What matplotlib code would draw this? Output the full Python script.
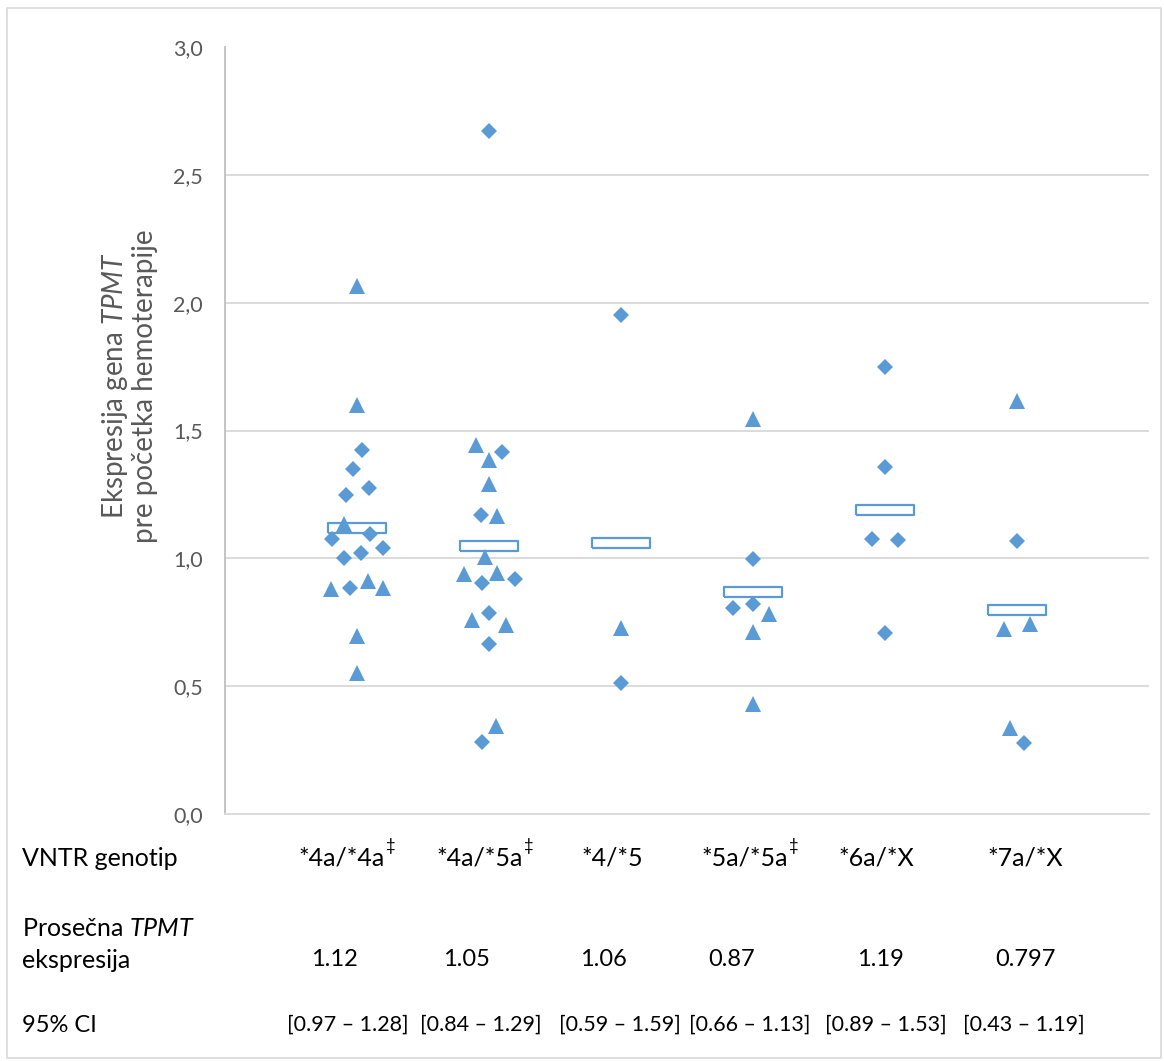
import numpy as np
import matplotlib.pyplot as plt
from matplotlib.patches import Rectangle
from matplotlib.ticker import FuncFormatter

plt.rcParams['font.family'] = ['Lato', 'DejaVu Sans']
plt.rcParams['mathtext.fontset'] = 'custom'
plt.rcParams['mathtext.rm'] = 'Lato'
plt.rcParams['mathtext.it'] = 'Lato:italic'

# genotipovi i sumarni podaci
genotypes = ["*4a/*4a", "*4a/*5a", "*4/*5", "*5a/*5a", "*6a/*X", "*7a/*X"]
has_dagger = [True, True, False, True, False, False]
mean_expr = ["1.12", "1.05", "1.06", "0.87", "1.19", "0.797"]
ci_low = ["0.97", "0.84", "0.59", "0.66", "0.89", "0.43"]
ci_high = ["1.28", "1.29", "1.59", "1.13", "1.53", "1.19"]

# pojedinacne vrednosti (trouglovi)
tri_vals = [
    [2.065, 1.600, 1.135, 0.879, 0.912, 0.885, 0.696, 0.553],
    [1.443, 1.384, 1.291, 1.165, 1.006, 0.937, 0.941, 0.759, 0.738, 0.344],
    [0.729],
    [1.545, 0.784, 0.710, 0.430],
    [],
    [1.616, 0.725, 0.743, 0.335],
]
tri_jit = [
    [0, 0, -0.10, -0.20, 0.08, 0.20, 0, 0],
    [-0.10, 0, 0, 0.06, -0.03, -0.19, 0.06, -0.13, 0.13, 0.05],
    [0],
    [0, 0.12, 0, 0],
    [],
    [0, -0.10, 0.10, -0.05],
]

# pojedinacne vrednosti (rombovi)
dia_vals = [
    [1.424, 1.349, 1.249, 1.275, 1.074, 1.095, 1.041, 1.022, 1.000, 0.883],
    [2.670, 1.417, 1.171, 0.905, 0.919, 0.787, 0.663, 0.283],
    [1.952, 0.511],
    [0.999, 0.804, 0.821],
    [1.749, 1.358, 1.075, 1.072, 0.707],
    [1.069, 0.279],
]
dia_jit = [
    [0.04, -0.03, -0.08, 0.09, -0.19, 0.10, 0.20, 0.03, -0.10, -0.05],
    [0, 0.10, -0.06, -0.05, 0.20, 0, 0, -0.05],
    [0, 0],
    [0, -0.15, 0],
    [0, 0, -0.10, 0.10, 0],
    [0, 0.05],
]

W, H = 1164, 1061
BLUE = "#5B9BD5"
GRAY = "#595959"

fig = plt.figure(figsize=(W / 100, H / 100), dpi=100)
ax = fig.add_axes([225 / W, 1 - 814 / H, (1149 - 225) / W, (814 - 47) / H])

# pravougaonik za srednju vrednost
box = [(-1, -0.18), (1, -0.18), (1, 0.18), (-1, 0.18), (-1, -0.18)]
xpos = np.arange(1, len(genotypes) + 1)
ax.plot(xpos, [float(m) for m in mean_expr], linestyle="none", marker=box,
        markersize=42, markerfacecolor="white", markeredgecolor=BLUE,
        markeredgewidth=1.6, zorder=3)

for i in range(len(genotypes)):
    if tri_vals[i]:
        ax.plot(xpos[i] + np.array(tri_jit[i]), tri_vals[i], linestyle="none",
                marker="^", markersize=11.5, color=BLUE, markeredgewidth=0, zorder=4)
    ax.plot(xpos[i] + np.array(dia_jit[i]), dia_vals[i], linestyle="none",
            marker="D", markersize=7.9, color=BLUE, markeredgewidth=0, zorder=4)

ax.set_xlim(0, 7)
ax.set_ylim(0, 3)
ax.set_xticks([])
ax.set_yticks(np.arange(0, 3.01, 0.5))
ax.yaxis.set_major_formatter(FuncFormatter(lambda v, _: f"{v:.1f}".replace(".", ",")))
ax.tick_params(axis="y", length=0, pad=16, labelsize=15.5, labelcolor=GRAY)
for y in np.arange(0.5, 2.51, 0.5):
    ax.axhline(y, color="#D9D9D9", linewidth=1.3, zorder=1)
for s in ["top", "right"]:
    ax.spines[s].set_visible(False)
ax.spines["left"].set_color("#BFBFBF")
ax.spines["left"].set_linewidth(1.3)
ax.spines["bottom"].set_color("#D9D9D9")
ax.spines["bottom"].set_linewidth(1.3)

# naslov y ose
fig.text(129 / W, 1 - 386 / H, "Ekspresija gena $\\mathit{TPMT}$\npre početka hemoterapije",
         rotation=90, ha="center", va="center", multialignment="center",
         fontsize=20, color=GRAY, linespacing=1.05)

# tabela ispod grafika
def px(x, y):
    return x / W, 1 - y / H

fs = 18
fig.text(*px(22, 858), "VNTR genotip", ha="left", va="center", fontsize=fs)
fig.text(*px(22, 928), "Prosečna $\\mathit{TPMT}$", ha="left", va="center", fontsize=fs)
fig.text(*px(22, 960), "ekspresija", ha="left", va="center", fontsize=fs)
fig.text(*px(22, 1025), "95% CI", ha="left", va="center", fontsize=fs - 1)

geno_x = [342, 480, 612, 745, 876, 1025]
mean_x = [334, 466, 603, 732, 880, 1025]
ci_x = [348, 481, 620, 750, 886, 1024]
for i, g in enumerate(genotypes):
    fig.text(*px(geno_x[i], 858), g, ha="center", va="center", fontsize=fs)
    if has_dagger[i]:
        fig.text(*px(geno_x[i] + 44, 846), "‡", ha="left", va="center", fontsize=12)
    fig.text(*px(mean_x[i], 960), mean_expr[i], ha="center", va="center", fontsize=17)
    fig.text(*px(ci_x[i], 1025), f"[{ci_low[i]} – {ci_high[i]}]",
             ha="center", va="center", fontsize=15.5)

# okvir
fig.add_artist(Rectangle((7 / W, 1 - 1058 / H), (1161 - 7) / W, (1058 - 8) / H,
                         transform=fig.transFigure, fill=False,
                         edgecolor="#D9D9D9", linewidth=1.2))

fig.savefig("out.png", dpi=100)
